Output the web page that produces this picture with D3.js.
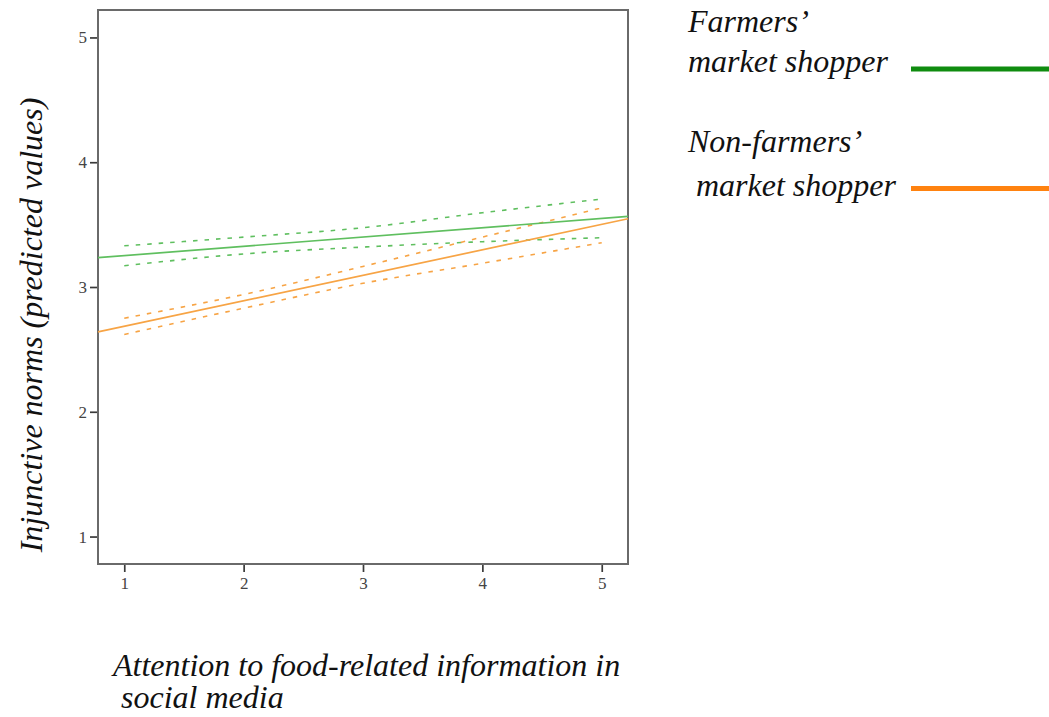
<!DOCTYPE html>
<html>
<head>
<meta charset="utf-8">
<script src="https://cdn.jsdelivr.net/npm/d3@7/dist/d3.min.js"></script>
<style>
  html, body { margin: 0; padding: 0; background: #fff; }
  svg { display: block; }
</style>
</head>
<body>
<svg id="chart" width="1049" height="717"></svg>
<script>
// Predictor levels where the confidence bands are evaluated
const xLevels = [1, 2, 3, 4, 5];
const xTicks = [1, 2, 3, 4, 5];
const yTicks = [1, 2, 3, 4, 5];

// Fitted regression lines, evaluated at the ends of the x range
const fitX = [0.78, 5.22];
const farmersFit = [3.235, 3.566];
const nonFarmersFit = [2.64, 3.547];

// 95% confidence band limits
const farmersUpper = [3.33, 3.40, 3.475, 3.595, 3.705];
const farmersLower = [3.17, 3.265, 3.32, 3.363, 3.395];
const nonFarmersUpper = [2.75, 2.94, 3.165, 3.40, 3.634];
const nonFarmersLower = [2.62, 2.83, 3.03, 3.19, 3.355];

const groupNames = [["Farmers\u2019", "market shopper"], ["Non-farmers\u2019", " market shopper"]];
const xTitle = ["Attention to food-related information in", " social media"];
const yTitle = "Injunctive norms (predicted values)";

const SERIF = "'Liberation Serif', 'Times New Roman', serif";

const svg = d3.select("#chart");
const plot = { left: 98, top: 10, right: 628, bottom: 564 };

const x = d3.scaleLinear().domain([0.78, 5.22]).range([plot.left, plot.right]);
const y = d3.scaleLinear().domain([0.78, 5.22]).range([plot.bottom, plot.top]);

const lineColor = { farmers: "#5fbf5f", non: "#f7a445" };
const legendColor = { farmers: "#0f8c0f", non: "#ff820f" };

// Axes
const xAxis = svg.append("g")
  .attr("transform", `translate(0,${plot.bottom})`)
  .call(d3.axisBottom(x).tickValues(xTicks).tickSize(8).tickPadding(5).tickFormat(d3.format("d")));
const yAxis = svg.append("g")
  .attr("transform", `translate(${plot.left},0)`)
  .call(d3.axisLeft(y).tickValues(yTicks).tickSize(8).tickPadding(3).tickFormat(d3.format("d")));
[xAxis, yAxis].forEach(g => {
  g.attr("font-family", null).attr("font-size", null);
  g.select(".domain").remove();
  g.selectAll(".tick line").attr("stroke", "#3a3a3a").attr("stroke-width", 1.7);
  g.selectAll(".tick text")
    .style("font-family", SERIF)
    .style("font-size", "17px")
    .attr("fill", "#444");
});

// Plot frame
svg.append("rect")
  .attr("x", plot.left).attr("y", plot.top)
  .attr("width", plot.right - plot.left).attr("height", plot.bottom - plot.top)
  .attr("fill", "none").attr("stroke", "#6a6a6a").attr("stroke-width", 2);

// Confidence bands (dashed)
const bandLine = d3.line().x(d => x(d[0])).y(d => y(d[1])).curve(d3.curveMonotoneX);
const bands = [
  [farmersUpper, lineColor.farmers],
  [farmersLower, lineColor.farmers],
  [nonFarmersUpper, lineColor.non],
  [nonFarmersLower, lineColor.non]
];
bands.forEach(([vals, col]) => {
  svg.append("path")
    .datum(xLevels.map((v, i) => [v, vals[i]]))
    .attr("d", bandLine)
    .attr("fill", "none")
    .attr("stroke", col)
    .attr("stroke-width", 1.6)
    .attr("stroke-dasharray", "4.5,7");
});

// Fitted lines (solid)
const fitLine = d3.line().x(d => x(d[0])).y(d => y(d[1]));
[[farmersFit, lineColor.farmers], [nonFarmersFit, lineColor.non]].forEach(([vals, col]) => {
  svg.append("path")
    .datum(fitX.map((v, i) => [v, vals[i]]))
    .attr("d", fitLine)
    .attr("fill", "none")
    .attr("stroke", col)
    .attr("stroke-width", 1.7);
});

function titleText() {
  return svg.append("text")
    .style("font-family", SERIF)
    .style("font-size", "32px")
    .style("font-style", "italic")
    .style("white-space", "pre")
    .attr("fill", "#111");
}

// Axis titles
const xt = titleText();
xt.append("tspan").attr("x", 113).attr("y", 676).text(xTitle[0]);
xt.append("tspan").attr("x", 113).attr("y", 708).text(xTitle[1]);

titleText()
  .attr("text-anchor", "middle")
  .attr("transform", "translate(42,325) rotate(-90)")
  .text(yTitle);

// Legend
const legend = [
  { names: groupNames[0], color: legendColor.farmers, y1: 32, y2: 72, lineY: 69 },
  { names: groupNames[1], color: legendColor.non, y1: 152, y2: 196, lineY: 188.5 }
];
legend.forEach(item => {
  const t = titleText();
  t.append("tspan").attr("x", 688).attr("y", item.y1).text(item.names[0]);
  t.append("tspan").attr("x", 688).attr("y", item.y2).text(item.names[1]);
  svg.append("line")
    .attr("x1", 911).attr("x2", 1049)
    .attr("y1", item.lineY).attr("y2", item.lineY)
    .attr("stroke", item.color).attr("stroke-width", 5);
});
</script>
</body>
</html>
